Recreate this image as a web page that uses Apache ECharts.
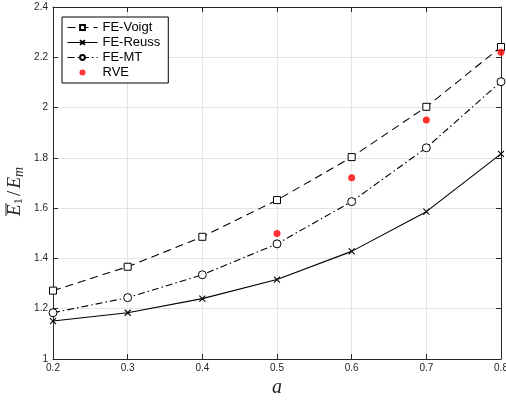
<!DOCTYPE html>
<html>
<head>
<meta charset="utf-8">
<script src="https://cdn.jsdelivr.net/npm/echarts@6/dist/echarts.min.js"></script>
<style>
  html, body { margin: 0; padding: 0; background: #fff; }
  #chart { width: 506px; height: 401px; }
</style>
</head>
<body>
<div id="chart"></div>
<script>
// Volume fraction a and normalised longitudinal modulus E1/Em
const aValues = [0.2, 0.3, 0.4, 0.5, 0.6, 0.7, 0.8];
const feVoigt = [1.272, 1.367, 1.486, 1.632, 1.803, 2.003, 2.241];
const feReuss = [1.151, 1.184, 1.240, 1.316, 1.428, 1.586, 1.816];
const feMT    = [1.184, 1.244, 1.335, 1.458, 1.626, 1.840, 2.103];
const rveA    = [0.5, 0.6, 0.7, 0.8];
const rveVals = [1.499, 1.721, 1.951, 2.220];

const xTicks = { min: 0.2, max: 0.8, step: 0.1 };
const yTicks = { min: 1.0, max: 2.4, step: 0.2 };

const pairs = (xs, ys) => xs.map((x, i) => [x, ys[i]]);

const axisColor = '#262626';
const gridColor = '#e4e4e4';
const serif = 'Liberation Serif, Times New Roman, serif';
const tickFont = { color: axisColor, fontSize: 10, fontFamily: 'Liberation Sans, Arial, sans-serif' };
const crossPath = 'path://M0,0L10,10M10,0L0,10';

const chart = echarts.init(document.getElementById('chart'), null, { renderer: 'canvas' });

const baseX = {
  type: 'value', min: xTicks.min, max: xTicks.max, interval: xTicks.step,
  axisLine: { show: true, onZero: false, lineStyle: { color: axisColor, width: 1 } },
  axisTick: { show: true, inside: true, length: 5, lineStyle: { color: axisColor } }
};
const baseY = {
  type: 'value', min: yTicks.min, max: yTicks.max, interval: yTicks.step,
  axisLine: { show: true, onZero: false, lineStyle: { color: axisColor, width: 1 } },
  axisTick: { show: true, inside: true, length: 5, lineStyle: { color: axisColor } }
};

chart.setOption({
  animation: false,
  backgroundColor: '#fff',
  grid: { left: 53, right: 5, top: 7, bottom: 42, containLabel: false, outerBoundsMode: 'none' },
  xAxis: [
    Object.assign({}, baseX, {
      position: 'bottom',
      name: 'a', nameLocation: 'middle', nameGap: 14,
      nameTextStyle: { fontFamily: serif, fontStyle: 'italic', fontSize: 20, color: axisColor },
      axisLabel: Object.assign({ margin: 4, formatter: v => v.toFixed(1) }, tickFont),
      splitLine: { show: true, lineStyle: { color: gridColor, width: 1 } }
    }),
    Object.assign({}, baseX, {
      position: 'top',
      axisLabel: { show: false },
      splitLine: { show: false }
    })
  ],
  yAxis: [
    Object.assign({}, baseY, {
      position: 'left',
      axisLabel: Object.assign({ margin: 5, formatter: v => String(+v.toFixed(1)) }, tickFont),
      splitLine: { show: true, lineStyle: { color: gridColor, width: 1 } }
    }),
    Object.assign({}, baseY, {
      position: 'right',
      axisLabel: { show: false },
      splitLine: { show: false }
    })
  ],
  legend: {
    orient: 'vertical',
    left: 62, top: 17,
    padding: [4, 8, 4, 5],
    itemGap: 2,
    itemWidth: 30, itemHeight: 6,
    backgroundColor: '#fff',
    borderColor: '#000', borderWidth: 1, borderRadius: 0,
    lineStyle: { width: 1 },
    textStyle: { fontSize: 13, color: '#000', fontFamily: 'Liberation Sans, Arial, sans-serif' },
    data: ['FE-Voigt', 'FE-Reuss', 'FE-MT', 'RVE']
  },
  series: [
    {
      name: 'FE-Voigt', type: 'line', data: pairs(aValues, feVoigt),
      symbol: 'rect', symbolSize: 7, showAllSymbol: true,
      lineStyle: { color: '#000', width: 1.1, type: [8, 5] },
      itemStyle: { color: '#fff', borderColor: '#000', borderWidth: 1 },
      z: 3
    },
    {
      name: 'FE-Reuss', type: 'line', data: pairs(aValues, feReuss),
      symbol: crossPath, symbolSize: 6, showAllSymbol: true,
      lineStyle: { color: '#000', width: 1.1, type: 'solid' },
      itemStyle: { color: '#000', borderColor: '#000', borderWidth: 1.1 },
      z: 3
    },
    {
      name: 'FE-MT', type: 'line', data: pairs(aValues, feMT),
      symbol: 'circle', symbolSize: 8, showAllSymbol: true,
      lineStyle: { color: '#000', width: 1.1, type: [7, 3, 1.5, 3] },
      itemStyle: { color: '#fff', borderColor: '#000', borderWidth: 1 },
      z: 3
    },
    {
      name: 'RVE', type: 'scatter', data: pairs(rveA, rveVals),
      symbol: 'circle', symbolSize: 7,
      itemStyle: { color: '#ff0000' },
      z: 4
    }
  ],
  graphic: [
    {
      type: 'group',
      x: 15, y: 216,
      rotation: Math.PI / 2,
      children: [
        {
          type: 'text', x: 0, y: 0,
          style: {
            text: '{e|E}{s|1}{d|/}{e|E}{m|m}',
            textAlign: 'left', textVerticalAlign: 'middle',
            fill: axisColor,
            rich: {
              e: { fontFamily: serif, fontStyle: 'italic', fontSize: 19, fill: axisColor },
              s: { fontFamily: serif, fontSize: 13, fill: axisColor, padding: [8, 1, 0, 0] },
              m: { fontFamily: serif, fontStyle: 'italic', fontSize: 14, fill: axisColor, padding: [8, 0, 0, 0] },
              d: { fontFamily: serif, fontSize: 19, fill: axisColor, padding: [0, 2, 0, 1] }
            }
          }
        },
        {
          type: 'line',
          shape: { x1: 0, y1: -9, x2: 13, y2: -9 },
          style: { stroke: axisColor, lineWidth: 1 }
        }
      ]
    }
  ]
});
</script>
</body>
</html>
